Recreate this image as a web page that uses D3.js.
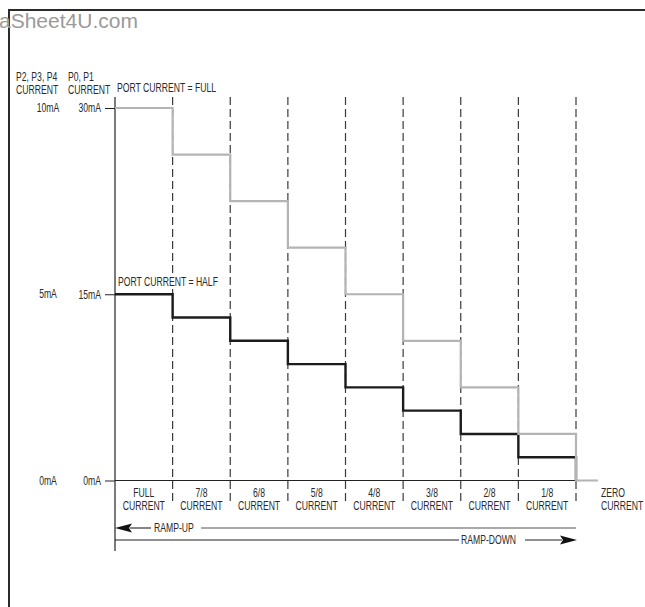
<!DOCTYPE html>
<html><head><meta charset="utf-8">
<script src="https://cdn.jsdelivr.net/npm/d3@7"></script>
<style>
html,body{margin:0;padding:0;background:#fff;}
svg text{font-family:"Liberation Sans",Arial,sans-serif;fill:#2a2a2a;}
</style></head>
<body>
<svg id="chart" width="645" height="607"></svg>
<script>
// ---- data ----
const stepLabels = ["FULL","7/8","6/8","5/8","4/8","3/8","2/8","1/8","ZERO"];
const fullCurrent = [30, 26.25, 22.5, 18.75, 15, 11.25, 7.5, 3.75, 0];   // P0,P1 mA, port current = FULL
const halfCurrent = [15, 13.125, 11.25, 9.375, 7.5, 5.625, 3.75, 1.875, 0]; // P0,P1 mA, port current = HALF
const tickValues = [0, 15, 30];
const p01TickLabels = ["0mA", "15mA", "30mA"];
const p234TickLabels = ["0mA", "5mA", "10mA"];

const svg = d3.select("#chart");
const W = 645, H = 607;
const SX = 0.72;       // horizontal condensing of the label font
const FS = "12px";

function label(g, tx, ty, str, anchor) {
  return g.append("text")
    .attr("transform", `translate(${tx},${ty}) scale(${SX},1)`)
    .attr("text-anchor", anchor || "start")
    .style("font-size", FS)
    .text(str);
}

// frame (cropped box)
svg.append("path").attr("d", `M9,${H} L9,10 L${W},10`).attr("fill","none").attr("stroke","#2b2b2b").attr("stroke-width",2);

// watermark
svg.append("text").attr("x",-1).attr("y",28).text("aSheet4U.com")
  .style("font-size","21px").style("fill","#9a9a9a");

const x = d3.scaleLinear().domain([0, 8]).range([115, 576]);
const y = d3.scaleLinear().domain([0, 30]).range([480.5, 108]);

// dashed verticals
svg.append("g").selectAll("line").data(d3.range(1, 9)).join("line")
  .attr("x1", d => x(d)).attr("x2", d => x(d))
  .attr("y1", 97).attr("y2", 504)
  .attr("stroke", "#3a3a3a").attr("stroke-width", 1.2).attr("stroke-dasharray", "8,4");

// axis (left) with ticks
const axis = d3.axisLeft(y).tickValues(tickValues).tickSize(10).tickPadding(4)
  .tickFormat((d, i) => p01TickLabels[i]);
const ag = svg.append("g").attr("transform", `translate(${x(0)},0)`).call(axis);
ag.select(".domain").remove();
ag.selectAll(".tick line").attr("stroke", "#222").attr("stroke-width", 1);
ag.selectAll(".tick text").style("font-size", FS).style("font-family", null).attr("fill", "#2a2a2a")
  .attr("x", -14 / SX).attr("transform", `scale(${SX},1)`);

// left column labels (P2,P3,P4)
const lg = svg.append("g");
tickValues.forEach((d, i) => label(lg, 48, y(d) + 4, p234TickLabels[i], "middle"));

// vertical axis line and horizontal base line
svg.append("line").attr("x1", x(0)).attr("x2", x(0)).attr("y1", 97).attr("y2", 551)
  .attr("stroke", "#222").attr("stroke-width", 1.2);
svg.append("line").attr("x1", x(0)).attr("x2", x(8)).attr("y1", y(0)).attr("y2", y(0))
  .attr("stroke", "#222").attr("stroke-width", 1.2);

// column headers
const hdr = svg.append("g");
label(hdr, 16, 81, "P2, P3, P4");
label(hdr, 16, 94, "CURRENT");
label(hdr, 68, 81, "P0, P1");
label(hdr, 68, 94, "CURRENT");
label(hdr, 117, 92, "PORT CURRENT = FULL");
hdr.append("rect").attr("x", 117).attr("y", 275).attr("width", 102).attr("height", 13).attr("fill", "#fff");
label(hdr, 118, 286, "PORT CURRENT = HALF");

// step lines
const line = d3.line().curve(d3.curveStepAfter);
function stepPts(arr) {
  const pts = arr.map((v, i) => [x(i), y(v)]);
  pts.push([x(8) + 22, y(arr[arr.length - 1])]);
  return pts;
}
svg.append("path").attr("d", line(stepPts(halfCurrent).slice(0, 9))).attr("fill", "none")
  .attr("stroke", "#1c1c1c").attr("stroke-width", 2.4);
svg.append("path").attr("d", line(stepPts(fullCurrent))).attr("fill", "none")
  .attr("stroke", "#b4b4b4").attr("stroke-width", 2.2);

// category labels
const cg = svg.append("g");
stepLabels.forEach((lab, i) => {
  const cx = i < 8 ? (x(i) + x(i + 1)) / 2 : x(8) + 25;
  const anchor = i < 8 ? "middle" : "start";
  label(cg, cx, 497, lab, anchor);
  label(cg, cx, 510, "CURRENT", anchor);
});

// ramp arrows
const ry1 = 528, ry2 = 540;
const rg = svg.append("g");
rg.append("path").attr("d", `M${x(0)},${ry1} L${x(0)+17},${ry1-4.5} L${x(0)+14},${ry1} L${x(0)+17},${ry1+4.5} Z`).attr("fill", "#111");
rg.append("line").attr("x1", x(0)+15).attr("x2", 151).attr("y1", ry1).attr("y2", ry1).attr("stroke", "#333").attr("stroke-width", 1.2);
label(rg, 154, ry1 + 4, "RAMP-UP");
rg.append("line").attr("x1", 201).attr("x2", x(8)).attr("y1", ry1).attr("y2", ry1).attr("stroke", "#555").attr("stroke-width", 1.2);

rg.append("line").attr("x1", x(0)).attr("x2", 459).attr("y1", ry2).attr("y2", ry2).attr("stroke", "#222").attr("stroke-width", 1.2);
label(rg, 461, ry2 + 4, "RAMP-DOWN");
rg.append("line").attr("x1", 525).attr("x2", x(8)-14).attr("y1", ry2).attr("y2", ry2).attr("stroke", "#222").attr("stroke-width", 1.2);
rg.append("path").attr("d", `M${x(8)+1},${ry2} L${x(8)-16},${ry2-4.5} L${x(8)-13},${ry2} L${x(8)-16},${ry2+4.5} Z`).attr("fill", "#111");
</script>
</body></html>
